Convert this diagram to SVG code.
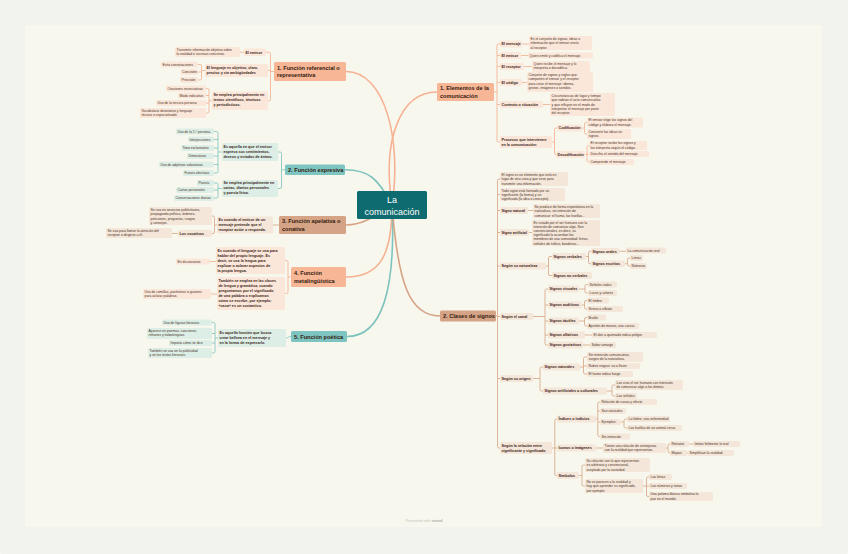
<svg xmlns="http://www.w3.org/2000/svg" width="848" height="554" viewBox="0 0 848 554">
<style>
text{font-family:"Liberation Sans",Arial,sans-serif}
.lf{font-size:3.4px;fill:#4a3226}
.lb{font-size:3.7px;font-weight:bold;fill:#3a2418}
.br{font-size:5.6px;font-weight:bold;fill:#33200f}
.ce{font-size:9px;fill:#ffffff;text-anchor:middle}
rect{rx:1.5px;ry:1.5px}
.ps{fill:#fbe7da}.pt{fill:#ddeee7}.pn{fill:#f4e6d9}
.s1{fill:#f7b696}.s2{fill:#7ec5c1}.s3{fill:#d5a385}
.ms,.mt,.mn{fill:none;stroke-width:1.6;stroke-linecap:round}
.ms{stroke:#f6b293}.mt{stroke:#7fc3bf}.mn{stroke:#d6a386}
.cs,.ct,.cn{fill:none;stroke-width:0.9}
.cs{stroke:#f4b597}.ct{stroke:#86c8c3}.cn{stroke:#d9ab8f}
</style>
<rect x="0" y="0" width="848" height="554" fill="#f2f2ee" rx="0" ry="0"/>
<rect x="25" y="25" width="797" height="502" fill="#f8f7ed" rx="0" ry="0"/>
<g id="connectors">
<path class="ms" d="M392,205 C402,140 385,71.5 346,71.5"/>
<path class="ms" d="M392,205 C382,140 400,92 437,92"/>
<path class="mt" d="M392,205 C378,178 368,169.75 345,169.75"/>
<path class="mn" d="M392,205 C372,218 362,225 346,225"/>
<path class="ms" d="M392,205 C392,258 378,277 346,277"/>
<path class="mt" d="M392,205 C396,290 382,336.5 347,336.5"/>
<path class="mn" d="M392,205 C398,285 410,316 440,316"/>
<path class="cs" d="M274,71.5H270.5 M266,52.25H269 Q270.5,52.25 270.5,53.75 V99.25 Q270.5,100.75 269,100.75 H268 M270.5,70.5H268"/>
<path class="cs" d="M244,52.25H240"/>
<path class="cs" d="M205,70.5H201.5 M198,64.5H200 Q201.5,64.5 201.5,66 V78.5 Q201.5,80 200,80 H198 M201.5,72H198"/>
<path class="cs" d="M212,100.75H209 M206,88.5H207.5 Q209,88.5 209,90 V111.5 Q209,113 207.5,113 H206 M209,95.5H206 M209,103H206"/>
<path class="cs" d="M494,92H497 M500,44H498.5 Q497,44 497,45.5 V140.5 Q497,142 498.5,142 H500 M497,55.5H500 M497,66.5H500 M497,82.5H500 M497,104.5H500"/>
<path class="cs" d="M522,44H529 M521,55.5H528 M524,66.5H532 M522,82.5H527 M543,104.5H550"/>
<path class="cs" d="M552,142H554.5 M557,128H556 Q554.5,128 554.5,129.5 V153 Q554.5,154.5 556,154.5"/>
<path class="cs" d="M582,128H584.5 M587,122.5H586 Q584.5,122.5 584.5,124 V132.5 Q584.5,134 586,134 H587"/>
<path class="cs" d="M585,154.5H587 M589,145.5H588.5 Q587,145.5 587,147 V160.5 Q587,162 588.5,162 H589 M587,154H589"/>
<path class="cs" d="M291,277H288 M285,260.5H286.5 Q288,260.5 288,262 V292 Q288,293.5 286.5,293.5 H285"/>
<path class="cs" d="M216,261.5H210 M217,294H211"/>
<path class="ct" d="M285,169.75H281.5 M278,152H280 Q281.5,152 281.5,153.5 V187 Q281.5,188.5 280,188.5 H278"/>
<path class="ct" d="M222,152H218 M214,131.5H216.5 Q218,131.5 218,133 V171.5 Q218,173 216.5,173 H214 M218,139.5H214 M218,148H214 M218,156H214 M218,164.5H214"/>
<path class="ct" d="M222,188.5H218 M214,183H216.5 Q218,183 218,184.5 V196.5 Q218,198 216.5,198 H214 M218,190H214"/>
<path class="ct" d="M291,336.5 C288,336.5 289,338 286,338"/>
<path class="ct" d="M218,338H215 M212,322.5H213.5 Q215,322.5 215,324 V351.5 Q215,353 213.5,353 H212 M215,333.5H212 M215,343H212"/>
<path class="cn" d="M279,225H273"/>
<path class="cn" d="M217,225H214.5 M212,216H213 Q214.5,216 214.5,217.5 V232 Q214.5,233.5 213,233.5 H212"/>
<path class="cn" d="M178,233.5H172"/>
<path class="cn" d="M496,316H497.5 M500,179H499 Q497.5,179 497.5,180.5 V446.5 Q497.5,448 499,448 H500 M497.5,194.5H500 M497.5,210.5H500 M497.5,232.5H500 M497.5,266H500 M497.5,316.5H500 M497.5,378.5H500"/>
<path class="cn" d="M528,210.5H533 M529,232.5H532"/>
<path class="cn" d="M546,266H548.5 M552,256.5H550 Q548.5,256.5 548.5,258 V274 Q548.5,275.5 550,275.5 H552"/>
<path class="cn" d="M586,256.5H588.5 M591,251.25H590 Q588.5,251.25 588.5,252.75 V262.25 Q588.5,263.75 590,263.75 H591"/>
<path class="cn" d="M619,251.25H626"/>
<path class="cn" d="M625,263.75H627.5 M630,258H629 Q627.5,258 627.5,259.5 V264.5 Q627.5,266 629,266 H630"/>
<path class="cn" d="M533,316.5H545 M548,289H546.5 Q545,289 545,290.5 V343.5 Q545,345 546.5,345 H548 M545,305H548 M545,321H548 M545,335H548"/>
<path class="cn" d="M579,289H585 M588,284.5H586.5 Q585,284.5 585,286 V291.5 Q585,293 586.5,293 H588"/>
<path class="cn" d="M582,305H584.5 M587,300.5H586 Q584.5,300.5 584.5,302 V307.5 Q584.5,309 586,309 H587"/>
<path class="cn" d="M579,321H584.5 M587,317.5H586 Q584.5,317.5 584.5,319 V324.5 Q584.5,326 586,326 H587"/>
<path class="cn" d="M585,335H592 M583,345H590"/>
<path class="cn" d="M533,378.5H540 M543,367H541.5 Q540,367 540,368.5 V389.5 Q540,391 541.5,391 H543"/>
<path class="cn" d="M580,367H583.5 M587,357H585 Q583.5,357 583.5,358.5 V372.5 Q583.5,374 585,374 H587 M583.5,366H587"/>
<path class="cn" d="M607,391H612 M615,385H613.5 Q612,385 612,386.5 V394.5 Q612,396 613.5,396 H615"/>
<path class="cn" d="M552,448H554.8 M557,419H556.3 Q554.8,419 554.8,420.5 V474 Q554.8,475.5 556.3,475.5 H557 M554.8,448H557"/>
<path class="cn" d="M596,419H597.8 M600,402H599.3 Q597.8,402 597.8,403.5 V435 Q597.8,436.5 599.3,436.5 H600 M597.8,411H600 M597.8,422H600"/>
<path class="cn" d="M621,422H624 M627,419H625.5 Q624,419 624,420.5 V426.5 Q624,428 625.5,428 H627"/>
<path class="cn" d="M596,448H603"/>
<path class="cn" d="M666,448H668 M670,444H669.5 Q668,444 668,445.5 V451.5 Q668,453 669.5,453 H670 M689,444H693 M687,453H688"/>
<path class="cn" d="M579,475.5H582 M585,465H583.5 Q582,465 582,466.5 V484.5 Q582,486 583.5,486 H585"/>
<path class="cn" d="M643,486H646.5 M649,477H648 Q646.5,477 646.5,478.5 V495 Q646.5,496.5 648,496.5 H649 M646.5,486H649"/>
</g>
<g id="central"><rect x="357" y="191" width="70" height="28" fill="#0e6b70" rx="2" ry="2"/><text class="ce" x="392" y="203">La</text><text class="ce" x="392" y="214.5">comunicación</text></g>

<g id="l1"><rect class="s1" x="274" y="62" width="72" height="19"/><text class="br" x="277" y="69.6">1. Función referencial o</text><text class="br" x="277" y="77">representativa</text></g>
<g id="l1-emisor"><rect class="ps" x="244" y="48.5" width="22" height="7.5"/><text class="lb" x="245.5" y="53.6">El emisor</text></g>
<g id="l1-emisor-1"><rect class="ps" x="175" y="47" width="65" height="10"/><text class="lf" x="176.5" y="50.7">Transmite información objetiva sobre</text><text class="lf" x="176.5" y="55.1">la realidad o sucesos concretos.</text></g>
<g id="l1-lenguaje"><rect class="ps" x="205" y="64" width="63" height="13"/><text class="lb" x="206.5" y="68.6">El lenguaje es objetivo, claro,</text><text class="lb" x="206.5" y="73.6">preciso y sin ambigüedades</text></g>
<g id="l1-lenguaje-1"><rect class="ps" x="161" y="61.5" width="37" height="6"/><text class="lf" x="162.5" y="65.8">Evita connotaciones</text></g>
<g id="l1-lenguaje-2"><rect class="ps" x="180.5" y="69" width="17.5" height="6"/><text class="lf" x="182" y="73.3">Concisión</text></g>
<g id="l1-lenguaje-3"><rect class="ps" x="180" y="77" width="18" height="6"/><text class="lf" x="181.5" y="81.3">Precisión</text></g>
<g id="l1-uso"><rect class="ps" x="212" y="91.5" width="56" height="18.5"/><text class="lb" x="213.5" y="96.1">Se emplea principalmente en</text><text class="lb" x="213.5" y="101.1">textos científicos, técnicos</text><text class="lb" x="213.5" y="106.1">y periodísticos.</text></g>
<g id="l1-uso-1"><rect class="ps" x="166" y="85.5" width="40" height="6"/><text class="lf" x="167.5" y="89.8">Oraciones enunciativas</text></g>
<g id="l1-uso-2"><rect class="ps" x="178" y="92.5" width="28" height="6"/><text class="lf" x="179.5" y="96.8">Modo indicativo</text></g>
<g id="l1-uso-3"><rect class="ps" x="156" y="100" width="50" height="6"/><text class="lf" x="157.5" y="104.3">Uso de la tercera persona</text></g>
<g id="l1-uso-4"><rect class="ps" x="140" y="108" width="66" height="10"/><text class="lf" x="141.5" y="111.7">Vocabulario denotativo y lenguaje</text><text class="lf" x="141.5" y="116.1">técnico o especializado.</text></g>

<g id="l2"><rect class="s2" x="285" y="164.5" width="60" height="10.5"/><text class="br" x="288" y="171.7">2. Función expresiva</text></g>
<g id="l2-a"><rect class="pt" x="222" y="143" width="56" height="18"/><text class="lb" x="223.5" y="147.6">Es aquella en que el emisor</text><text class="lb" x="223.5" y="152.6">expresa sus sentimientos,</text><text class="lb" x="223.5" y="157.6">deseos y estados de ánimo.</text></g>
<g id="l2-a-1"><rect class="pt" x="176" y="128.5" width="38" height="6"/><text class="lf" x="177.5" y="132.8">Uso de la 1.ª persona</text></g>
<g id="l2-a-2"><rect class="pt" x="188" y="136.5" width="26" height="6"/><text class="lf" x="189.5" y="140.8">Interjecciones</text></g>
<g id="l2-a-3"><rect class="pt" x="181" y="145" width="33" height="6"/><text class="lf" x="182.5" y="149.3">Tono exclamativo</text></g>
<g id="l2-a-4"><rect class="pt" x="187" y="153" width="27" height="6"/><text class="lf" x="188.5" y="157.3">Diminutivos</text></g>
<g id="l2-a-5"><rect class="pt" x="159" y="161.5" width="55" height="6"/><text class="lf" x="160.5" y="165.8">Uso de adjetivos valorativos</text></g>
<g id="l2-a-6"><rect class="pt" x="183" y="170" width="31" height="6"/><text class="lf" x="184.5" y="174.3">Frases afectivas</text></g>
<g id="l2-b"><rect class="pt" x="222" y="180" width="56" height="17"/><text class="lb" x="223.5" y="184.4">Se emplea principalmente en</text><text class="lb" x="223.5" y="189.4">cartas, diarios personales</text><text class="lb" x="223.5" y="194.4">y poesía lírica.</text></g>
<g id="l2-b-1"><rect class="pt" x="197" y="180" width="17" height="6"/><text class="lf" x="198.5" y="184.3">Poesía</text></g>
<g id="l2-b-2"><rect class="pt" x="176" y="187" width="38" height="6"/><text class="lf" x="177.5" y="191.3">Cartas personales</text></g>
<g id="l2-b-3"><rect class="pt" x="174" y="195" width="40" height="6"/><text class="lf" x="175.5" y="199.3">Conversaciones diarias</text></g>

<g id="l3"><rect class="s3" x="279" y="216" width="67" height="18"/><text class="br" x="282" y="223.3">3. Función apelativa o</text><text class="br" x="282" y="230.5">conativa</text></g>
<g id="l3-a"><rect class="pn" x="217" y="216.5" width="56" height="17"/><text class="lb" x="218.5" y="220.9">Es cuando el emisor de un</text><text class="lb" x="218.5" y="225.9">mensaje pretende que el</text><text class="lb" x="218.5" y="230.9">receptor actúe o responda.</text></g>
<g id="l3-a-1"><rect class="pn" x="149" y="207" width="63" height="18"/><text class="lf" x="150.5" y="210.7">Se usa en anuncios publicitarios,</text><text class="lf" x="150.5" y="215.1">propaganda política, órdenes,</text><text class="lf" x="150.5" y="219.5">peticiones, preguntas, ruegos</text><text class="lf" x="150.5" y="223.9">y consejos.</text></g>
<g id="l3-a-2"><rect class="pn" x="178" y="230" width="34" height="7"/><text class="lb" x="179.5" y="234.9">Los vocativos</text></g>
<g id="l3-a-2-1"><rect class="pn" x="106" y="228" width="66" height="10"/><text class="lf" x="107.5" y="231.7">Se usa para llamar la atención del</text><text class="lf" x="107.5" y="236.1">receptor o dirigirse a él.</text></g>

<g id="l4"><rect class="s1" x="291" y="267" width="55" height="20"/><text class="br" x="294" y="275">4. Función</text><text class="br" x="294" y="282.5">metalingüística</text></g>
<g id="l4-a"><rect class="ps" x="216" y="247" width="69" height="27"/><text class="lb" x="217.5" y="251.6">Es cuando el lenguaje se usa para</text><text class="lb" x="217.5" y="256.6">hablar del propio lenguaje. Es</text><text class="lb" x="217.5" y="261.6">decir, se usa la lengua para</text><text class="lb" x="217.5" y="266.6">explicar o aclarar aspectos de</text><text class="lb" x="217.5" y="271.6">la propia lengua.</text></g>
<g id="l4-a-1"><rect class="ps" x="176" y="258.5" width="34" height="6"/><text class="lf" x="177.5" y="262.8">En diccionarios</text></g>
<g id="l4-b"><rect class="ps" x="217" y="277" width="68" height="33"/><text class="lb" x="218.5" y="281.6">También se emplea en las clases</text><text class="lb" x="218.5" y="286.6">de lengua y gramática, cuando</text><text class="lb" x="218.5" y="291.6">preguntamos por el significado</text><text class="lb" x="218.5" y="296.6">de una palabra o explicamos</text><text class="lb" x="218.5" y="301.6">cómo se escribe, por ejemplo:</text><text class="lb" x="218.5" y="306.6">«casa» es un sustantivo.</text></g>
<g id="l4-b-1"><rect class="ps" x="143" y="289" width="68" height="10"/><text class="lf" x="144.5" y="292.7">Uso de comillas, paréntesis o guiones</text><text class="lf" x="144.5" y="297.1">para aclarar palabras.</text></g>

<g id="l5"><rect class="s2" x="291" y="331" width="56" height="11"/><text class="br" x="294" y="338.5">5. Función poética</text></g>
<g id="l5-a"><rect class="pt" x="218" y="329" width="68" height="18"/><text class="lb" x="219.5" y="333.6">Es aquella función que busca</text><text class="lb" x="219.5" y="338.6">crear belleza en el mensaje y</text><text class="lb" x="219.5" y="343.6">en la forma de expresarlo.</text></g>
<g id="l5-a-1"><rect class="pt" x="162" y="319.5" width="50" height="6"/><text class="lf" x="163.5" y="323.8">Uso de figuras literarias</text></g>
<g id="l5-a-2"><rect class="pt" x="147" y="328" width="65" height="11"/><text class="lf" x="148.5" y="331.9">Aparece en poemas, canciones,</text><text class="lf" x="148.5" y="336.3">refranes y trabalenguas.</text></g>
<g id="l5-a-3"><rect class="pt" x="169" y="340" width="43" height="6"/><text class="lf" x="170.5" y="344.3">Importa cómo se dice</text></g>
<g id="l5-a-4"><rect class="pt" x="148" y="348" width="64" height="10"/><text class="lf" x="149.5" y="351.7">También se usa en la publicidad</text><text class="lf" x="149.5" y="356.1">y en los textos literarios.</text></g>

<g id="r1"><rect class="s1" x="437" y="83" width="57" height="18"/><text class="br" x="440" y="90.3">1. Elementos de la</text><text class="br" x="440" y="97.5">comunicación</text></g>
<g id="r1-mensaje"><rect class="ps" x="500" y="40.5" width="22" height="7"/><text class="lb" x="501.5" y="45.4">El mensaje</text></g>
<g id="r1-mensaje-1"><rect class="ps" x="529" y="36" width="63" height="14"/><text class="lf" x="530.5" y="39.7">Es el conjunto de signos, ideas o</text><text class="lf" x="530.5" y="44.1">información que el emisor envía</text><text class="lf" x="530.5" y="48.5">al receptor.</text></g>
<g id="r1-emisor"><rect class="ps" x="500" y="52" width="21" height="7"/><text class="lb" x="501.5" y="56.9">El emisor</text></g>
<g id="r1-emisor-1"><rect class="ps" x="528" y="52.5" width="65" height="6"/><text class="lf" x="529.5" y="56.8">Quien emite y codifica el mensaje.</text></g>
<g id="r1-receptor"><rect class="ps" x="500" y="63" width="24" height="7"/><text class="lb" x="501.5" y="67.9">El receptor</text></g>
<g id="r1-receptor-1"><rect class="ps" x="532" y="61" width="58" height="11"/><text class="lf" x="533.5" y="64.9">Quien recibe el mensaje y lo</text><text class="lf" x="533.5" y="69.3">interpreta o decodifica.</text></g>
<g id="r1-codigo"><rect class="ps" x="500" y="79" width="22" height="7"/><text class="lb" x="501.5" y="83.9">El código</text></g>
<g id="r1-codigo-1"><rect class="ps" x="527" y="72" width="66" height="20"/><text class="lf" x="528.5" y="75.7">Conjunto de signos y reglas que</text><text class="lf" x="528.5" y="80.1">comparten el emisor y el receptor</text><text class="lf" x="528.5" y="84.5">para crear el mensaje: idioma,</text><text class="lf" x="528.5" y="88.9">gestos, imágenes o sonidos.</text></g>
<g id="r1-contexto"><rect class="ps" x="500" y="101" width="43" height="7"/><text class="lb" x="501.5" y="105.9">Contexto o situación</text></g>
<g id="r1-contexto-1"><rect class="ps" x="550" y="93" width="65" height="23"/><text class="lf" x="551.5" y="96.7">Circunstancias de lugar y tiempo</text><text class="lf" x="551.5" y="101.1">que rodean el acto comunicativo</text><text class="lf" x="551.5" y="105.5">y que influyen en el modo de</text><text class="lf" x="551.5" y="109.9">interpretar el mensaje por parte</text><text class="lf" x="551.5" y="114.3">del receptor.</text></g>
<g id="r1-proceso"><rect class="ps" x="500" y="136" width="52" height="12"/><text class="lb" x="501.5" y="140.6">Procesos que intervienen</text><text class="lb" x="501.5" y="145.6">en la comunicación:</text></g>
<g id="r1-cod"><rect class="ps" x="557" y="124.5" width="25" height="7"/><text class="lb" x="558.5" y="129.4">Codificación</text></g>
<g id="r1-cod-1"><rect class="ps" x="587" y="117.5" width="56" height="10"/><text class="lf" x="588.5" y="121.2">El emisor elige los signos del</text><text class="lf" x="588.5" y="125.6">código y elabora el mensaje.</text></g>
<g id="r1-cod-2"><rect class="ps" x="587" y="129" width="44" height="10"/><text class="lf" x="588.5" y="132.7">Convierte las ideas en</text><text class="lf" x="588.5" y="137.1">signos.</text></g>
<g id="r1-dec"><rect class="ps" x="556" y="151" width="29" height="7"/><text class="lb" x="557.5" y="155.9">Decodificación</text></g>
<g id="r1-dec-1"><rect class="ps" x="589" y="141" width="58" height="9"/><text class="lf" x="590.5" y="144.4">El receptor recibe los signos y</text><text class="lf" x="590.5" y="148.6">los interpreta según el código.</text></g>
<g id="r1-dec-2"><rect class="ps" x="589" y="151" width="60" height="6"/><text class="lf" x="590.5" y="155.3">Descifra el sentido del mensaje</text></g>
<g id="r1-dec-3"><rect class="ps" x="589" y="159" width="45" height="6"/><text class="lf" x="590.5" y="163.3">Comprende el mensaje</text></g>

<g id="r2"><rect class="s3" x="440" y="310.5" width="56" height="11"/><text class="br" x="443" y="318">2. Clases de signos</text></g>
<g id="r2-a"><rect class="pn" x="500" y="172" width="68" height="14"/><text class="lf" x="501.5" y="175.7">El signo es un elemento que está en</text><text class="lf" x="501.5" y="180.1">lugar de otra cosa y que sirve para</text><text class="lf" x="501.5" y="184.5">transmitir una información.</text></g>
<g id="r2-b"><rect class="pn" x="500" y="188" width="65" height="13"/><text class="lf" x="501.5" y="191.5">Todo signo está formado por un</text><text class="lf" x="501.5" y="195.9">significante (la forma) y un</text><text class="lf" x="501.5" y="200.3">significado (la idea o concepto).</text></g>
<g id="r2-natural"><rect class="pn" x="500" y="207" width="28" height="7"/><text class="lb" x="501.5" y="211.9">Signo natural</text></g>
<g id="r2-natural-1"><rect class="pn" x="533" y="204" width="67" height="14"/><text class="lf" x="534.5" y="207.7">Se produce de forma espontánea en la</text><text class="lf" x="534.5" y="212.1">naturaleza, sin intención de</text><text class="lf" x="534.5" y="216.5">comunicar: el humo, las huellas...</text></g>
<g id="r2-artificial"><rect class="pn" x="500" y="229" width="29" height="7"/><text class="lb" x="501.5" y="233.9">Signo artificial</text></g>
<g id="r2-artificial-1"><rect class="pn" x="532" y="220" width="68" height="26"/><text class="lf" x="533.5" y="223.6">Es creado por el ser humano con la</text><text class="lf" x="533.5" y="227.8">intención de comunicar algo. Son</text><text class="lf" x="533.5" y="232">convencionales, es decir, su</text><text class="lf" x="533.5" y="236.2">significado lo acuerdan los</text><text class="lf" x="533.5" y="240.4">miembros de una comunidad: letras,</text><text class="lf" x="533.5" y="244.6">señales de tráfico, banderas...</text></g>
<g id="r2-naturaleza"><rect class="pn" x="500" y="262.5" width="46" height="7"/><text class="lb" x="501.5" y="267.4">Según su naturaleza</text></g>
<g id="r2-verbales"><rect class="pn" x="552" y="253" width="34" height="7"/><text class="lb" x="553.5" y="257.9">Signos verbales</text></g>
<g id="r2-orales"><rect class="pn" x="591" y="248" width="28" height="6.5"/><text class="lb" x="592.5" y="252.6">Signos orales</text></g>
<g id="r2-orales-1"><rect class="pn" x="626" y="247.5" width="40" height="6"/><text class="lf" x="627.5" y="251.8">La comunicación oral</text></g>
<g id="r2-escritos"><rect class="pn" x="591" y="260.5" width="34" height="6.5"/><text class="lb" x="592.5" y="265.1">Signos escritos</text></g>
<g id="r2-escritos-1"><rect class="pn" x="630" y="255" width="13" height="6"/><text class="lf" x="631.5" y="259.3">Letras</text></g>
<g id="r2-escritos-2"><rect class="pn" x="630" y="263" width="17" height="6"/><text class="lf" x="631.5" y="267.3">Números</text></g>
<g id="r2-noverbales"><rect class="pn" x="552" y="272" width="40" height="7"/><text class="lb" x="553.5" y="276.9">Signos no verbales</text></g>
<g id="r2-canal"><rect class="pn" x="500" y="313" width="33" height="7"/><text class="lb" x="501.5" y="317.9">Según el canal</text></g>
<g id="r2-visuales"><rect class="pn" x="548" y="285.5" width="31" height="7"/><text class="lb" x="549.5" y="290.4">Signos visuales</text></g>
<g id="r2-visuales-1"><rect class="pn" x="588" y="281.5" width="29" height="6"/><text class="lf" x="589.5" y="285.8">Señales viales</text></g>
<g id="r2-visuales-2"><rect class="pn" x="588" y="290" width="29" height="6"/><text class="lf" x="589.5" y="294.3">Luces y colores</text></g>
<g id="r2-auditivos"><rect class="pn" x="548" y="301.5" width="34" height="7"/><text class="lb" x="549.5" y="306.4">Signos auditivos</text></g>
<g id="r2-auditivos-1"><rect class="pn" x="587" y="297.5" width="22" height="6"/><text class="lf" x="588.5" y="301.8">El timbre</text></g>
<g id="r2-auditivos-2"><rect class="pn" x="587" y="306" width="36" height="6"/><text class="lf" x="588.5" y="310.3">Sirena o silbato</text></g>
<g id="r2-tactiles"><rect class="pn" x="548" y="317.5" width="31" height="7"/><text class="lb" x="549.5" y="322.4">Signos táctiles</text></g>
<g id="r2-tactiles-1"><rect class="pn" x="587" y="314.5" width="19" height="6"/><text class="lf" x="588.5" y="318.8">Braille</text></g>
<g id="r2-tactiles-2"><rect class="pn" x="587" y="323" width="52" height="6"/><text class="lf" x="588.5" y="327.3">Apretón de manos, una caricia</text></g>
<g id="r2-olfativos"><rect class="pn" x="548" y="331.5" width="37" height="7"/><text class="lb" x="549.5" y="336.4">Signos olfativos</text></g>
<g id="r2-olfativos-1"><rect class="pn" x="592" y="332" width="65" height="6"/><text class="lf" x="593.5" y="336.3">El olor a quemado indica peligro</text></g>
<g id="r2-gustativos"><rect class="pn" x="548" y="341.5" width="35" height="7"/><text class="lb" x="549.5" y="346.4">Signos gustativos</text></g>
<g id="r2-gustativos-1"><rect class="pn" x="590" y="342" width="26" height="6"/><text class="lf" x="591.5" y="346.3">Sabor amargo</text></g>
<g id="r2-origen"><rect class="pn" x="500" y="375" width="33" height="7"/><text class="lb" x="501.5" y="379.9">Según su origen</text></g>
<g id="r2-onat"><rect class="pn" x="543" y="363.5" width="37" height="7"/><text class="lb" x="544.5" y="368.4">Signos naturales</text></g>
<g id="r2-onat-1"><rect class="pn" x="587" y="352" width="56" height="10"/><text class="lf" x="588.5" y="355.7">Sin intención comunicativa,</text><text class="lf" x="588.5" y="360.1">surgen de la naturaleza.</text></g>
<g id="r2-onat-2"><rect class="pn" x="587" y="363" width="53" height="6"/><text class="lf" x="588.5" y="367.3">Nubes negras: va a llover</text></g>
<g id="r2-onat-3"><rect class="pn" x="587" y="371" width="46" height="6"/><text class="lf" x="588.5" y="375.3">El humo indica fuego</text></g>
<g id="r2-oart"><rect class="pn" x="543" y="387.5" width="64" height="7"/><text class="lb" x="544.5" y="392.4">Signos artificiales o culturales</text></g>
<g id="r2-oart-1"><rect class="pn" x="615" y="380" width="68" height="10"/><text class="lf" x="616.5" y="383.7">Los crea el ser humano con intención</text><text class="lf" x="616.5" y="388.1">de comunicar algo a los demás.</text></g>
<g id="r2-oart-2"><rect class="pn" x="615" y="393" width="22" height="6"/><text class="lf" x="616.5" y="397.3">Las señales</text></g>
<g id="r2-relacion"><rect class="pn" x="500" y="442" width="52" height="12"/><text class="lb" x="501.5" y="446.6">Según la relación entre</text><text class="lb" x="501.5" y="451.6">significante y significado</text></g>
<g id="r2-indices"><rect class="pn" x="557" y="415.5" width="39" height="7"/><text class="lb" x="558.5" y="420.4">Índices o indicios</text></g>
<g id="r2-indices-1"><rect class="pn" x="600" y="399" width="57" height="6"/><text class="lf" x="601.5" y="403.3">Relación de causa y efecto</text></g>
<g id="r2-indices-2"><rect class="pn" x="600" y="408" width="26" height="6"/><text class="lf" x="601.5" y="412.3">Son naturales</text></g>
<g id="r2-indices-3"><rect class="pn" x="600" y="419" width="21" height="6"/><text class="lf" x="601.5" y="423.3">Ejemplos:</text></g>
<g id="r2-indices-3a"><rect class="pn" x="627" y="416" width="43" height="6"/><text class="lf" x="628.5" y="420.3">La fiebre, una enfermedad</text></g>
<g id="r2-indices-3b"><rect class="pn" x="627" y="425" width="55" height="6"/><text class="lf" x="628.5" y="429.3">Las huellas de un animal cerca</text></g>
<g id="r2-indices-4"><rect class="pn" x="600" y="433.5" width="30" height="6"/><text class="lf" x="601.5" y="437.8">Sin intención</text></g>
<g id="r2-iconos"><rect class="pn" x="557" y="444.5" width="39" height="7"/><text class="lb" x="558.5" y="449.4">Iconos o imágenes</text></g>
<g id="r2-iconos-1"><rect class="pn" x="603" y="443" width="63" height="10"/><text class="lf" x="604.5" y="446.7">Tienen una relación de semejanza</text><text class="lf" x="604.5" y="451.1">con la realidad que representan.</text></g>
<g id="r2-iconos-1a"><rect class="pn" x="670" y="441" width="19" height="6"/><text class="lf" x="671.5" y="445.3">Retratos</text></g>
<g id="r2-iconos-1a1"><rect class="pn" x="693" y="441" width="47" height="6"/><text class="lf" x="694.5" y="445.3">Imitan fielmente lo real</text></g>
<g id="r2-iconos-1b"><rect class="pn" x="670" y="450" width="17" height="6"/><text class="lf" x="671.5" y="454.3">Mapas</text></g>
<g id="r2-iconos-1b1"><rect class="pn" x="688" y="450" width="46" height="6"/><text class="lf" x="689.5" y="454.3">Simplifican la realidad</text></g>
<g id="r2-simbolos"><rect class="pn" x="557" y="472" width="22" height="7"/><text class="lb" x="558.5" y="476.9">Símbolos</text></g>
<g id="r2-simbolos-1"><rect class="pn" x="585" y="458" width="65" height="14"/><text class="lf" x="586.5" y="461.7">Su relación con lo que representan</text><text class="lf" x="586.5" y="466.1">es arbitraria y convencional,</text><text class="lf" x="586.5" y="470.5">aceptada por la sociedad.</text></g>
<g id="r2-simbolos-2"><rect class="pn" x="585" y="479" width="58" height="14"/><text class="lf" x="586.5" y="482.7">No se parecen a la realidad y</text><text class="lf" x="586.5" y="487.1">hay que aprender su significado,</text><text class="lf" x="586.5" y="491.5">por ejemplo:</text></g>
<g id="r2-simbolos-2a"><rect class="pn" x="649" y="474" width="23" height="6"/><text class="lf" x="650.5" y="478.3">Las letras</text></g>
<g id="r2-simbolos-2b"><rect class="pn" x="649" y="483" width="38" height="6"/><text class="lf" x="650.5" y="487.3">Los números y notas</text></g>
<g id="r2-simbolos-2c"><rect class="pn" x="649" y="492" width="64" height="9"/><text class="lf" x="650.5" y="495.4">Una paloma blanca simboliza la</text><text class="lf" x="650.5" y="499.6">paz en el mundo.</text></g>
<text x="424" y="522" text-anchor="middle" style="font-size:3.8px;fill:#c5c3ba">Presented with <tspan style="font-weight:bold;fill:#b0aea5">xmind</tspan></text>
</svg>
